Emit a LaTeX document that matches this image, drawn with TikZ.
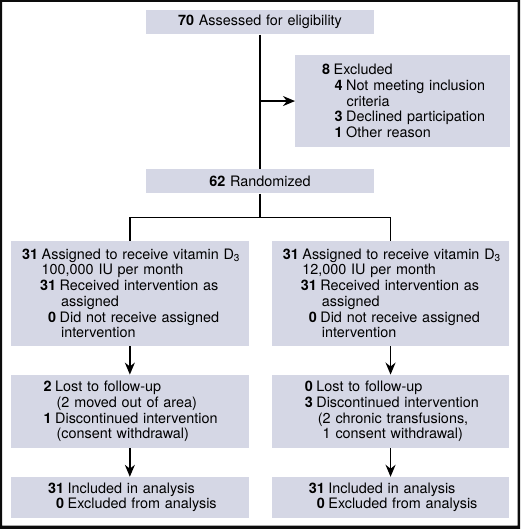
\documentclass[tikz,border=0pt]{standalone}
\usepackage{fontspec}
\setmainfont{TeX Gyre Heros}
\usetikzlibrary{arrows.meta, positioning}
\definecolor{boxGray}{RGB}{213, 215, 229}
\definecolor{frameBlack}{RGB}{12, 12, 12}

% bold count set just left of the text start #1
\newcommand{\cnt}[2]{\hspace*{#1}\llap{\textbf{#2}\hspace{3.5pt}}\ignorespaces}
\newcommand{\skipto}[1]{\hspace*{#1}\ignorespaces}

\begin{document}
\begin{tikzpicture}[
    x=1pt, y=-1pt,
    node distance=28.5pt,
    box/.style={rectangle, fill=boxGray, inner sep=0pt, align=left, font=\fontsize{14.4}{15.7}\selectfont},
    wide/.style={box, text width=237.3pt},
    arrow/.style={-{Stealth[length=12pt, width=10pt]}, line width=1.6pt},
    link/.style={line width=1.6pt}
]
    % outer frame
    \fill[frameBlack, even odd rule] (0,0) rectangle (520,529) (2,2) rectangle (517.5,525.5);

    \node[box, align=center, text width=228.6pt, minimum height=24.3pt] (assess) at (260,22.2) {\textbf{70} Assessed for eligibility};
    \node[box, text width=214.3pt, minimum height=91.7pt, anchor=north west] (excl) at (295,55) {%
        \cnt{38.5pt}{8} Excluded\\
        \cnt{51pt}{4} Not meeting inclusion\\
        \skipto{51.5pt} criteria\\
        \cnt{51pt}{3} Declined participation\\
        \cnt{51pt}{1} Other reason};
    \node[box, align=center, text width=228.6pt, minimum height=24pt, below=134.7pt of assess] (rand) {\textbf{62} Randomized};

    \node[wide, minimum height=105pt, anchor=north west] (armA) at (11,240.7) {%
        \cnt{30.5pt}{31} Assigned to receive vitamin D\textsubscript{3}\\
        \skipto{30.5pt} 100,000 IU per month\\
        \cnt{48.5pt}{31} Received intervention as\\
        \skipto{50pt} assigned\\
        \cnt{48.5pt}{0} Did not receive assigned\\
        \skipto{50pt} intervention};
    \node[wide, minimum height=105pt, anchor=north west] (armB) at (271.7,240.7) {%
        \cnt{30.5pt}{31} Assigned to receive vitamin D\textsubscript{3}\\
        \skipto{30.5pt} 12,000 IU per month\\
        \cnt{48.5pt}{31} Received intervention as\\
        \skipto{50pt} assigned\\
        \cnt{48.5pt}{0} Did not receive assigned\\
        \skipto{50pt} intervention};

    \node[wide, minimum height=73.3pt, below=of armA] (fupA) {%
        \cnt{44pt}{2} Lost to follow-up\\
        \skipto{45.5pt} (2 moved out of area)\\
        \cnt{44pt}{1} Discontinued intervention\\
        \skipto{45.5pt} (consent withdrawal)};
    \node[wide, minimum height=73.3pt, below=of armB] (fupB) {%
        \cnt{44.5pt}{0} Lost to follow-up\\
        \cnt{44.5pt}{3} Discontinued intervention\\
        \skipto{46pt} (2 chronic transfusions,\\
        \skipto{46pt} \phantom{(}1 consent withdrawal)};

    \node[wide, minimum height=40.7pt, below=of fupA] (anaA) {%
        \cnt{56.5pt}{31} Included in analysis\\
        \cnt{56.5pt}{0} Excluded from analysis};
    \node[wide, minimum height=40.7pt, below=of fupB] (anaB) {%
        \cnt{56.5pt}{31} Included in analysis\\
        \cnt{56.5pt}{0} Excluded from analysis};

    \coordinate (fork) at (260,217.3);

    \draw[link] (assess) -- (rand);
    \draw[arrow] (assess |- excl) -- (excl);
    \draw[link] (rand) -- (fork);
    \draw[link] (armA.north) |- (fork) -| (armB.north);
    \draw[arrow] (armA) -- (fupA);
    \draw[arrow] (armB) -- (fupB);
    \draw[arrow] (fupA) -- (anaA);
    \draw[arrow] (fupB) -- (anaB);
\end{tikzpicture}
\end{document}
